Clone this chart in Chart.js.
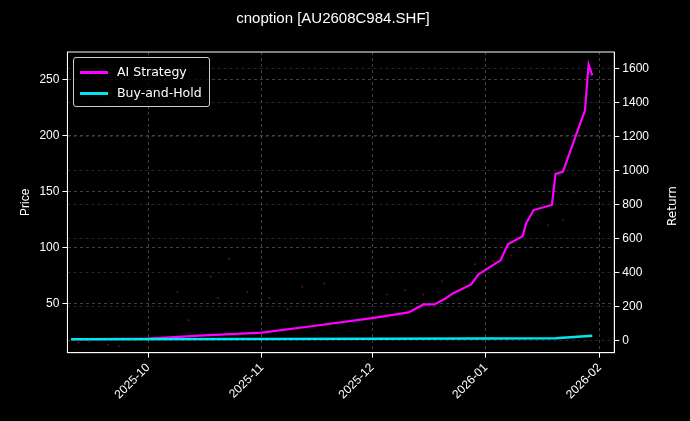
<!DOCTYPE html>
<html><head><meta charset="utf-8">
<script src="https://cdn.jsdelivr.net/npm/chart.js@4"></script>
<style>
body{margin:0;background:#000;font-family:"DejaVu Sans",sans-serif}
#wrap{position:relative;width:690px;height:421px}
#legend{position:absolute;left:73px;top:57px;border:1px solid #ccc;border-radius:3px;background:rgba(0,0,0,.8);color:#fff;font-size:12.5px;padding:3px 7px 3px 6px;line-height:21px}
#legend span{display:inline-block;width:28px;height:3px;vertical-align:middle;margin-right:9px}
#rt{position:absolute;color:#fff;font-size:12px;transform:rotate(-90deg);transform-origin:left top}
</style></head><body>
<div id="wrap"><canvas id="c" width="690" height="421"></canvas>
<div id="legend"><div><span style="background:#ff00ff"></span>AI Strategy</div><div><span style="background:#00e5ee"></span>Buy-and-Hold</div></div>
<div id="rt" style="top:226px;left:665px">Return</div></div>
<script>
const monthTicks = ['2025-10-01','2025-11-01','2025-12-01','2026-01-01','2026-02-01'];
const aiDates = ['2025-09-10','2025-10-01','2025-10-15','2025-11-01','2025-11-14','2025-12-01','2025-12-11','2025-12-15','2025-12-18','2025-12-21','2025-12-23','2025-12-28','2025-12-30','2026-01-05','2026-01-07','2026-01-11','2026-01-12','2026-01-14','2026-01-19','2026-01-20','2026-01-22','2026-01-26','2026-01-28','2026-01-29','2026-01-30'];
const aiReturn = [8,12,30,47,83,133,166,213,213,248,278,331,390,473,568,615,692,769,799,982,994,1237,1355,1627,1562];
const bhDates = ['2025-09-10','2025-11-01','2025-12-01','2026-01-01','2026-01-20','2026-01-30'];
const bhReturn = [8,10,11,12,14,28];
const priceDates = ['2025-09-12','2025-09-15','2025-09-20','2025-09-23','2025-09-27','2025-10-03','2025-10-09','2025-10-12','2025-10-18','2025-10-20','2025-10-23','2025-10-28','2025-11-03','2025-11-08','2025-11-12','2025-11-18','2025-11-25','2025-12-01','2025-12-05','2025-12-10','2025-12-15','2025-12-20','2025-12-25','2025-12-29','2026-01-03','2026-01-08','2026-01-13','2026-01-18','2026-01-22','2026-01-25'];
const priceClose = [15,16,13,12,17,20,60,35,74,55,90,60,55,45,65,68,50,65,58,62,58,70,100,85,88,93,100,120,125,150];
const t = s => new Date(s + 'T00:00:00Z').getTime();
const pts = (d, v) => d.map((x, i) => ({x: t(x), y: v[i]}));
const grid = {color:'rgba(255,255,255,0.25)', drawTicks:true, tickColor:'#fff', tickLength:5};
const border = {color:'#fff', dash:[3,3]};
new Chart(document.getElementById('c'), {
  type:'line',
  data:{datasets:[
    {label:'Price', type:'scatter', data:pts(priceDates, priceClose), yAxisID:'y', pointRadius:1, pointBackgroundColor:'rgba(200,20,20,0.6)', pointBorderWidth:0},
    {label:'Buy-and-Hold', data:pts(bhDates, bhReturn), yAxisID:'y1', borderColor:'#00e5ee', borderWidth:2.5, pointRadius:0, tension:0},
    {label:'AI Strategy', data:pts(aiDates, aiReturn), yAxisID:'y1', borderColor:'#ff00ff', borderWidth:2.2, pointRadius:0, tension:0}
  ]},
  options:{
    responsive:false, animation:false,
    layout:{padding:{left:14,right:38,top:0,bottom:16}},
    plugins:{legend:{display:false}, tooltip:{enabled:false},
      title:{display:true, text:'cnoption [AU2608C984.SHF]', color:'#fff', font:{size:15, weight:'normal'}, padding:{top:10,bottom:24}}},
    scales:{
      x:{type:'linear', min:t('2025-09-09'), max:t('2026-02-05'),
        afterBuildTicks:a=>{a.ticks = monthTicks.map(s=>({value:t(s)}));},
        ticks:{color:'#fff', maxRotation:45, minRotation:45, font:{size:12}, callback:v=>new Date(v).toISOString().slice(0,7)},
        grid, border},
      y:{position:'left', min:6, max:275, title:{display:true, text:'Price', color:'#fff', font:{size:12}},
        afterBuildTicks:a=>{a.ticks=[50,100,150,200,250].map(v=>({value:v}));},
        ticks:{color:'#fff', font:{size:12}}, grid, border},
      y1:{position:'right', min:-71, max:1700,
        afterBuildTicks:a=>{a.ticks=[0,200,400,600,800,1000,1200,1400,1600].map(v=>({value:v}));},
        ticks:{color:'#fff', font:{size:12}, callback:v=>String(v)}, grid:{...grid, color:'rgba(255,255,255,0.15)'}, border}
    }
  },
  plugins:[{id:'bg', beforeDraw:c=>{c.ctx.save();c.ctx.fillStyle='#000';c.ctx.fillRect(0,0,c.width,c.height);c.ctx.restore();}},
    {id:'frame', afterDraw:c=>{const a=c.chartArea, x=c.ctx; x.save(); x.strokeStyle='#fff'; x.lineWidth=1; x.strokeRect(a.left,a.top,a.right-a.left,a.bottom-a.top); x.restore();}}]
});
</script></body></html>
